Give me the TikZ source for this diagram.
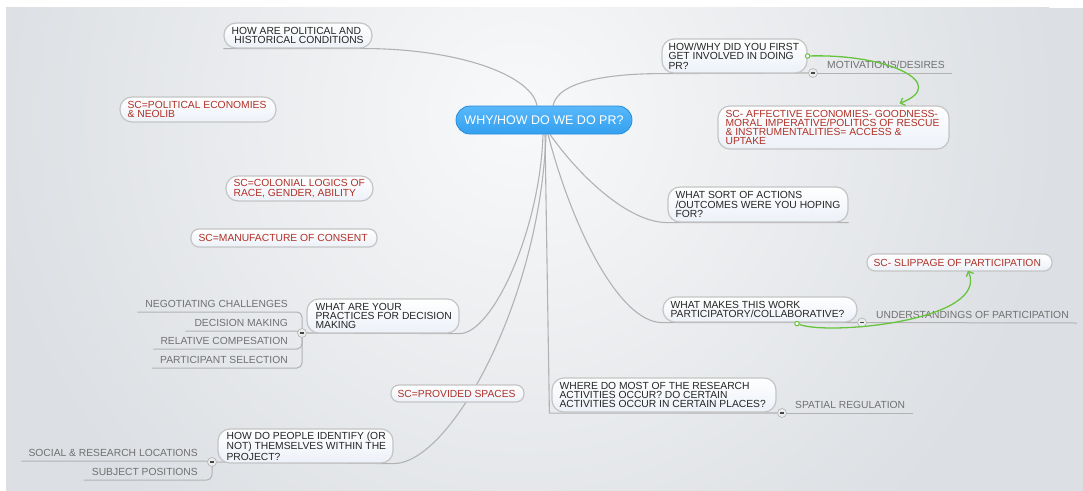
\documentclass[tikz,border=0pt]{standalone}
\usepackage{fontspec}
\setmainfont{Liberation Sans}
\usetikzlibrary{arrows.meta,calc}
\pgfdeclarelayer{bgl}
\pgfdeclarelayer{lines}
\pgfsetlayers{bgl,lines,main}
\definecolor{bg}{RGB}{220,223,227}
\definecolor{bglight}{RGB}{248,249,250}
\definecolor{txt}{RGB}{36,36,36}
\definecolor{sctxt}{RGB}{176,48,38}
\definecolor{subtxt}{RGB}{112,112,112}
\definecolor{brline}{RGB}{178,178,178}
\definecolor{boxborder}{RGB}{196,196,196}
\definecolor{boxbot}{RGB}{236,241,248}
\definecolor{cblue}{RGB}{52,160,240}
\definecolor{cbluetop}{RGB}{88,184,250}
\definecolor{cblueb}{RGB}{40,140,218}
\definecolor{grn}{RGB}{104,196,62}
\definecolor{minus}{RGB}{70,70,70}
\definecolor{colfill}{RGB}{234,235,237}
\tikzset{
  qbox/.style={draw=boxborder, line width=1.2pt, top color=white, bottom color=boxbot,
    rounded corners=12pt, inner sep=0pt},
  pill/.style={qbox, rounded corners=8pt},
  qtext/.style={anchor=west, align=left, inner sep=0pt, text=txt,
    font=\fontsize{10.3}{9.3}\selectfont},
  sctext/.style={qtext, text=sctxt},
  ctrbox/.style={draw=cblueb, line width=0.8pt, top color=cbluetop, bottom color=cblue,
    rounded corners=14pt, minimum width=176pt, minimum height=28pt, inner sep=0pt,
    text=white, font=\fontsize{12.5}{14}\selectfont},
  subt/.style={inner sep=0pt, text=subtxt, font=\fontsize{10.3}{12}\selectfont},
  branch/.style={draw=brline, line width=1.1pt},
  subline/.style={draw=brline, line width=1.0pt, rounded corners=5pt},
  collapse/.style={circle, draw=brline, fill=colfill, line width=0.6pt, minimum size=9pt,
    inner sep=0pt},
  gdot/.style={circle, draw=grn, fill=white, line width=1pt, minimum size=4.5pt, inner sep=0pt},
  garrow/.style={draw=grn, line width=1.3pt, -{Straight Barb[length=4pt,width=8pt]}},
}
\begin{document}
\begin{tikzpicture}[x=1pt,y=-1pt]
\useasboundingbox (0,0) rectangle (1083,490);
\begin{pgfonlayer}{bgl}
  \fill[white] (-5,-5) rectangle (1090,495);
  \fill[bg] (6,7.5) rectangle (1090,495);
  \begin{scope}
    \clip (6,7.5) rectangle (1090,495);
    \shade[inner color=bglight, outer color=bg] (520,115) circle (540pt);
  \end{scope}
\end{pgfonlayer}

% central topic
\node[ctrbox] (ctr) at (544,120) {WHY/HOW DO WE DO PR?};

% boxes
\node[qbox, minimum width=148pt, minimum height=25pt] (pol) at (298,35.5) {};
\node[qtext] (polt) at ($(pol.west)+(8,0)$) {HOW ARE POLITICAL AND\\\ HISTORICAL CONDITIONS};

\node[qbox, minimum width=156pt, minimum height=25pt] (spe) at (198,109.5) {};
\node[sctext] (spet) at ($(spe.west)+(8,0)$) {SC=POLITICAL ECONOMIES\\\& NEOLIB};

\node[qbox, minimum width=147pt, minimum height=25pt] (scl) at (299.5,188.5) {};
\node[sctext] (sclt) at ($(scl.west)+(8,0)$) {SC=COLONIAL LOGICS OF\\RACE, GENDER, ABILITY};

\node[pill, minimum width=186pt, minimum height=18pt] (smc) at (284,238) {};
\node[sctext] (smct) at ($(smc.west)+(8,0)$) {SC=MANUFACTURE OF CONSENT};

\node[qbox, minimum width=145pt, minimum height=34pt] (hw) at (734.5,56) {};
\node[qtext] (hwt) at ($(hw.west)+(7,0)$) {HOW/WHY DID YOU FIRST\\GET INVOLVED IN DOING\\PR?};

\node[qbox, minimum width=231pt, minimum height=43pt] (aff) at (833.5,127.5) {};
\node[sctext] (afft) at ($(aff.west)+(8,0)$) {SC- AFFECTIVE ECONOMIES- GOODNESS-\\MORAL IMPERATIVE/POLITICS OF RESCUE\\\& INSTRUMENTALITIES= ACCESS \&\\UPTAKE};

\node[qbox, minimum width=180pt, minimum height=35pt] (ws) at (758,204.5) {};
\node[qtext] (wst) at ($(ws.west)+(8,0)$) {WHAT SORT OF ACTIONS\\/OUTCOMES WERE YOU HOPING\\FOR?};

\node[pill, minimum width=185pt, minimum height=17pt] (slip) at (959.5,262.5) {};
\node[sctext] (slipt) at ($(slip.west)+(7,0)$) {SC- SLIPPAGE OF PARTICIPATION};

\node[qbox, minimum width=194pt, minimum height=25pt] (wm) at (760,309.5) {};
\node[qtext] (wmt) at ($(wm.west)+(8,0)$) {WHAT MAKES THIS WORK\\PARTICIPATORY/COLLABORATIVE?};

\node[qbox, minimum width=224pt, minimum height=34pt] (wh) at (664,395) {};
\node[qtext] (wht) at ($(wh.west)+(8,0)$) {WHERE DO MOST OF THE RESEARCH\\ACTIVITIES OCCUR? DO CERTAIN\\ACTIVITIES OCCUR IN CERTAIN PLACES?};

\node[qbox, minimum width=152pt, minimum height=34pt] (wa) at (383,316) {};
\node[qtext] (wat) at ($(wa.west)+(9,0)$) {WHAT ARE YOUR\\PRACTICES FOR DECISION\\MAKING};

\node[pill, minimum width=133pt, minimum height=17pt] (sps) at (457.5,393.5) {};
\node[sctext] (spst) at ($(sps.west)+(7,0)$) {SC=PROVIDED SPACES};

\node[qbox, minimum width=175pt, minimum height=34pt] (hd) at (305.5,446) {};
\node[qtext] (hdt) at ($(hd.west)+(9,0)$) {HOW DO PEOPLE IDENTIFY (OR\\NOT) THEMSELVES WITHIN THE\\PROJECT?};

% subtopic labels
\node[subt, anchor=base west] (mot) at (827,68) {MOTIVATIONS/DESIRES};
\node[subt, anchor=base west] (und) at (876,318) {UNDERSTANDINGS OF PARTICIPATION};
\node[subt, anchor=base west] (spa) at (795,408) {SPATIAL REGULATION};
\node[subt, anchor=base east] (neg) at (288,307) {NEGOTIATING CHALLENGES};
\node[subt, anchor=base east] (dec) at (288,326) {DECISION MAKING};
\node[subt, anchor=base east] (rel) at (288,344.5) {RELATIVE COMPESATION};
\node[subt, anchor=base east] (par) at (288,363.5) {PARTICIPANT SELECTION};
\node[subt, anchor=base east] (soc) at (198,456) {SOCIAL \& RESEARCH LOCATIONS};
\node[subt, anchor=base east] (sub) at (198,475) {SUBJECT POSITIONS};

% collapse buttons
\node[collapse] (chw) at (813,73) {\textcolor{minus}{\rule{3.6pt}{1.3pt}}};
\node[collapse] (cwm) at (862,322.5) {\textcolor{minus}{\rule{3.6pt}{1.3pt}}};
\node[collapse] (cwh) at (782,413) {\textcolor{minus}{\rule{3.6pt}{1.3pt}}};
\node[collapse] (cwa) at (302,333) {\textcolor{minus}{\rule{3.6pt}{1.3pt}}};
\node[collapse] (chd) at (212,462) {\textcolor{minus}{\rule{3.6pt}{1.3pt}}};

\begin{pgfonlayer}{lines}
  % main branches
  \draw[branch] ($(ctr.north)+(-7,0)$) .. controls +(-5,-28) and +(95,2) .. (pol.south east) -- (pol.south west);
  \draw[branch] ($(ctr.north)+(9,0)$) .. controls +(5,-25) and +(-50,0) .. (hw.south west) -- (chw.center);
  \draw[branch] ($(ctr.south)+(6,0)$) .. controls +(28,40) and +(-40,0) .. (ws.south west) -- (ws.south east);
  \draw[branch] ($(ctr.south)+(4,0)$) .. controls +(22,86) and +(-45,0) .. (wm.south west) -- (cwm.center);
  \draw[branch] ($(ctr.south)+(1,0)$) -- ($(wh.south west)+(-2,0.5)$) -- (cwh.center);
  \draw[branch] ($(ctr.south)+(-1,0)$) .. controls +(-3,96) and +(33,0) .. (wa.south east) -- (cwa.center);
  \draw[branch] ($(ctr.south)+(2,0)$) .. controls +(-6,166) and +(57,0) .. (hd.south east) -- (chd.center);
  % subtopic underlines
  \draw[subline] (chw.center) -- ($(mot.base east)+(7,5)$);
  \draw[subline] (cwm.center) -- ($(und.base east)+(8,5)$);
  \draw[subline] (cwh.center) -- ($(spa.base east)+(8,5)$);
  \draw[subline] (cwa.center) |- ($(neg.base west)+(-8,5)$);
  \draw[subline] (cwa.center) |- ($(dec.base west)+(-9,5)$);
  \draw[subline] (cwa.center) |- ($(rel.base west)+(-7,4.5)$);
  \draw[subline] (cwa.center) |- ($(par.base west)+(-8,4.5)$);
  \draw[subline] (chd.center) |- ($(soc.base west)+(-7,5)$);
  \draw[subline] (chd.center) |- ($(sub.base west)+(-8,5)$);
\end{pgfonlayer}

% relationship arrows
\node[gdot] (g1) at (hw.east) {};
\draw[garrow] (g1) .. controls +(83,-2) and +(50,-19) .. ($(aff.north)+(66,-2)$);
\node[gdot] (g2) at ($(wm.south)+(37,1)$) {};
\draw[garrow] (g2) .. controls +(33,12) and +(22,50) .. ($(slip.south)+(8.5,-1)$);
\end{tikzpicture}
\end{document}
